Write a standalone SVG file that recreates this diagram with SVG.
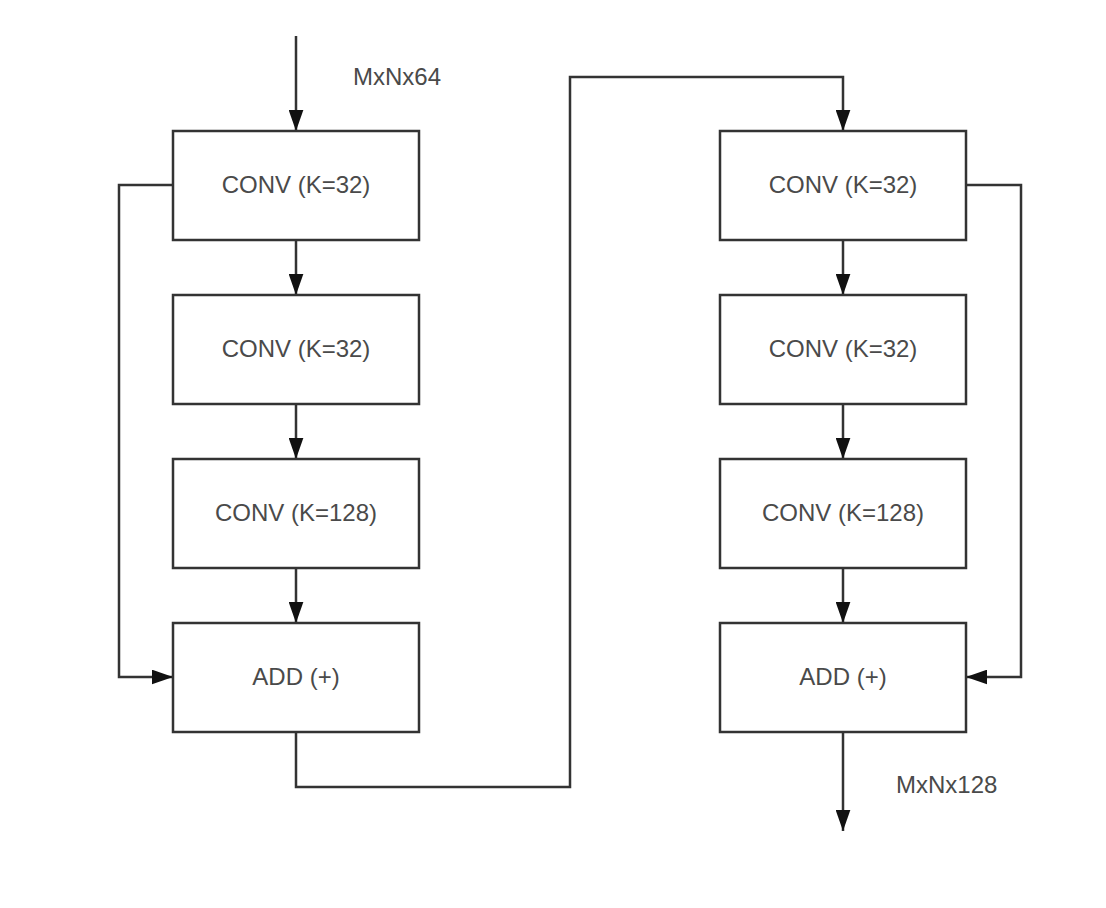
<svg xmlns="http://www.w3.org/2000/svg" width="1106" height="908" viewBox="0 0 1106 908">
<style>
.box{fill:#fff;stroke:#333;stroke-width:2.5}
.lbl{font-family:"Liberation Sans",Arial,sans-serif;font-size:24px;fill:#4a4a4a;text-anchor:middle}
.note{font-family:"Liberation Sans",Arial,sans-serif;font-size:24px;fill:#4a4a4a}
.wire{fill:none;stroke:#333;stroke-width:2.5}
</style>
<defs>
<marker id="ah" markerUnits="userSpaceOnUse" markerWidth="21" markerHeight="15" refX="20" refY="7" viewBox="0 0 20 14" orient="auto">
<path d="M0,0 L20,7 L0,14 Z" fill="#111"/>
</marker>
</defs>
<rect width="1106" height="908" fill="#fff"/>
<g id="connectors">
<path class="wire" d="M296,36 V131" marker-end="url(#ah)"/>
<path class="wire" d="M296,240 V295" marker-end="url(#ah)"/>
<path class="wire" d="M296,404 V459" marker-end="url(#ah)"/>
<path class="wire" d="M296,568 V623" marker-end="url(#ah)"/>
<path class="wire" d="M173,185 H119 V677 H173" marker-end="url(#ah)"/>
<path class="wire" d="M296,732 V787 H570 V77 H843 V131" marker-end="url(#ah)"/>
<path class="wire" d="M843,240 V295" marker-end="url(#ah)"/>
<path class="wire" d="M843,404 V459" marker-end="url(#ah)"/>
<path class="wire" d="M843,568 V623" marker-end="url(#ah)"/>
<path class="wire" d="M966,185 H1021 V677 H966" marker-end="url(#ah)"/>
<path class="wire" d="M843,732 V831" marker-end="url(#ah)"/>
</g>
<g id="l1"><rect class="box" x="173" y="131" width="246" height="109"/><text class="lbl" x="296" y="193">CONV (K=32)</text></g>
<g id="l2"><rect class="box" x="173" y="295" width="246" height="109"/><text class="lbl" x="296" y="357">CONV (K=32)</text></g>
<g id="l3"><rect class="box" x="173" y="459" width="246" height="109"/><text class="lbl" x="296" y="521">CONV (K=128)</text></g>
<g id="l4"><rect class="box" x="173" y="623" width="246" height="109"/><text class="lbl" x="296" y="685">ADD (+)</text></g>
<g id="r1"><rect class="box" x="720" y="131" width="246" height="109"/><text class="lbl" x="843" y="193">CONV (K=32)</text></g>
<g id="r2"><rect class="box" x="720" y="295" width="246" height="109"/><text class="lbl" x="843" y="357">CONV (K=32)</text></g>
<g id="r3"><rect class="box" x="720" y="459" width="246" height="109"/><text class="lbl" x="843" y="521">CONV (K=128)</text></g>
<g id="r4"><rect class="box" x="720" y="623" width="246" height="109"/><text class="lbl" x="843" y="685">ADD (+)</text></g>
<g id="in-label"><text class="note" x="353" y="85">MxNx64</text></g>
<g id="out-label"><text class="note" x="896" y="793">MxNx128</text></g>
</svg>
